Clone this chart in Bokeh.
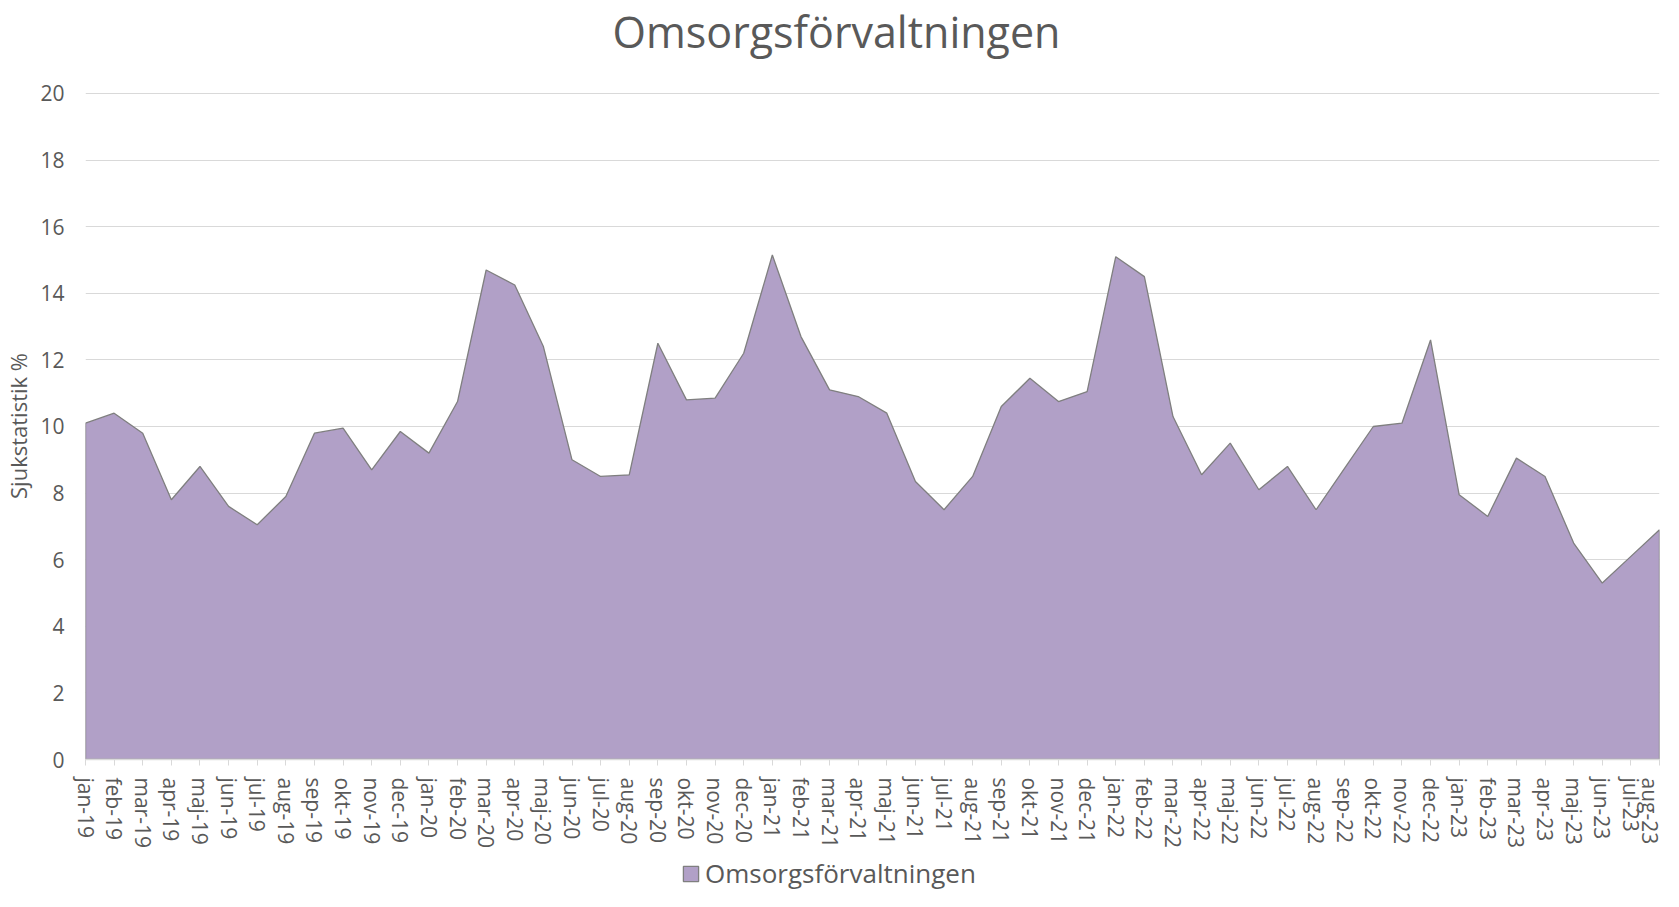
from bokeh.plotting import figure
from bokeh.layouts import column
from bokeh.models import Range1d, FixedTicker, Legend, LegendItem, Label
from bokeh.embed import file_html
from bokeh.resources import INLINE

title_text = "Omsorgsförvaltningen"
series_name = "Omsorgsförvaltningen"
y_label = "Sjukstatistik %"

months = [
    "jan-19", "feb-19", "mar-19", "apr-19", "maj-19", "jun-19", "jul-19", "aug-19", "sep-19", "okt-19", "nov-19", "dec-19",
    "jan-20", "feb-20", "mar-20", "apr-20", "maj-20", "jun-20", "jul-20", "aug-20", "sep-20", "okt-20", "nov-20", "dec-20",
    "jan-21", "feb-21", "mar-21", "apr-21", "maj-21", "jun-21", "jul-21", "aug-21", "sep-21", "okt-21", "nov-21", "dec-21",
    "jan-22", "feb-22", "mar-22", "apr-22", "maj-22", "jun-22", "jul-22", "aug-22", "sep-22", "okt-22", "nov-22", "dec-22",
    "jan-23", "feb-23", "mar-23", "apr-23", "maj-23", "jun-23", "jul-23", "aug-23",
]

values = [
    10.1, 10.4, 9.8, 7.8, 8.8, 7.6, 7.05, 7.9, 9.8, 9.95, 8.7, 9.85,
    9.2, 10.75, 14.7, 14.25, 12.4, 9.0, 8.5, 8.55, 12.5, 10.8, 10.85, 12.2,
    15.15, 12.7, 11.1, 10.9, 10.4, 8.35, 7.5, 8.5, 10.6, 11.45, 10.75, 11.05,
    15.1, 14.5, 10.3, 8.55, 9.5, 8.1, 8.8, 7.5, 8.75, 10.0, 10.1, 12.6,
    7.95, 7.3, 9.05, 8.5, 6.5, 5.3, 6.1, 6.9,
]

y_ticks = [0, 2, 4, 6, 8, 10, 12, 14, 16, 18, 20]

FONT = "Open Sans"
TXT = "#595959"
GRID = "#d9d9d9"
FILL = "#b1a0c7"
EDGE = "#7f7f7f"
W = 1663

n = len(values)
xs = list(range(n))
px = [xs[0]] + xs + [xs[-1]]
py = [0] + values + [0]


def blank(height, x_range):
    f = figure(width=W, height=height, output_backend="svg", toolbar_location=None,
               x_range=x_range, y_range=Range1d(0, 1),
               x_axis_location=None, y_axis_location=None,
               min_border=0, min_border_left=0, min_border_right=0,
               min_border_top=0, min_border_bottom=0)
    f.outline_line_color = None
    f.xgrid.visible = False
    f.ygrid.visible = False
    return f


# ---- title strip (frames of the column are aligned with the chart's frame)
t = blank(75, Range1d(0, 1))
t.add_layout(Label(
    x=751, y=44, x_units="screen", y_units="screen",
    text=title_text, text_align="center", text_baseline="alphabetic",
    text_font=FONT, text_font_size="43px", text_color=TXT,
))

# ---- main chart
p = figure(
    width=W, height=775,
    output_backend="svg", toolbar_location=None,
    x_range=Range1d(0, n - 1), y_range=Range1d(y_ticks[0], y_ticks[-1] + 0.03),
    min_border_left=78, min_border_right=4, min_border_top=17, min_border_bottom=89,
)
p.outline_line_color = None

p.patch(px, py, fill_color=FILL, line_color=EDGE, line_width=1.3)

p.xgrid.visible = False
p.ygrid.ticker = FixedTicker(ticks=y_ticks)
p.ygrid.grid_line_color = GRID
p.ygrid.grid_line_width = 1

p.yaxis.ticker = FixedTicker(ticks=y_ticks)
p.yaxis.axis_line_color = None
p.yaxis.major_tick_line_color = None
p.yaxis.minor_tick_line_color = None
p.yaxis.major_tick_out = 0
p.yaxis.major_tick_in = 0
p.yaxis.major_label_standoff = 21
p.yaxis.major_label_text_font = FONT
p.yaxis.major_label_text_font_size = "21px"
p.yaxis.major_label_text_color = TXT
p.yaxis.axis_label = y_label
p.yaxis.axis_label_text_font = FONT
p.yaxis.axis_label_text_font_size = "22px"
p.yaxis.axis_label_text_font_style = "normal"
p.yaxis.axis_label_text_color = TXT
p.yaxis.axis_label_standoff = 4

p.xaxis.ticker = FixedTicker(ticks=xs)
p.xaxis.major_label_overrides = {i: m for i, m in enumerate(months)}
p.xaxis.major_label_orientation = "vertical"
p.xaxis.axis_line_color = GRID
p.xaxis.axis_line_width = 1.5
p.xaxis.major_tick_line_color = GRID
p.xaxis.major_tick_out = 6
p.xaxis.major_tick_in = 0
p.xaxis.minor_tick_line_color = None
p.xaxis.major_label_standoff = 12
p.xaxis.major_label_text_font = FONT
p.xaxis.major_label_text_font_size = "21px"
p.xaxis.major_label_text_color = TXT

# ---- legend strip: the series is drawn here only off-view, to give the legend its swatch
lg = blank(41, Range1d(-2, -1))
swatch = lg.patch(px, py, fill_color=FILL, line_color=EDGE, line_width=1.3)
lg.add_layout(Legend(
    items=[LegendItem(label=series_name, renderers=[swatch])],
    location=(596, 0), orientation="horizontal",
    padding=0, margin=0, spacing=0,
    border_line_color=None, background_fill_alpha=0,
    glyph_width=19, glyph_height=19, label_standoff=5,
    label_text_font=FONT, label_text_font_size="26px", label_text_color=TXT,
), "center")

layout = column(t, p, lg, spacing=0)
open("out.html", "w").write(file_html(layout, INLINE))
